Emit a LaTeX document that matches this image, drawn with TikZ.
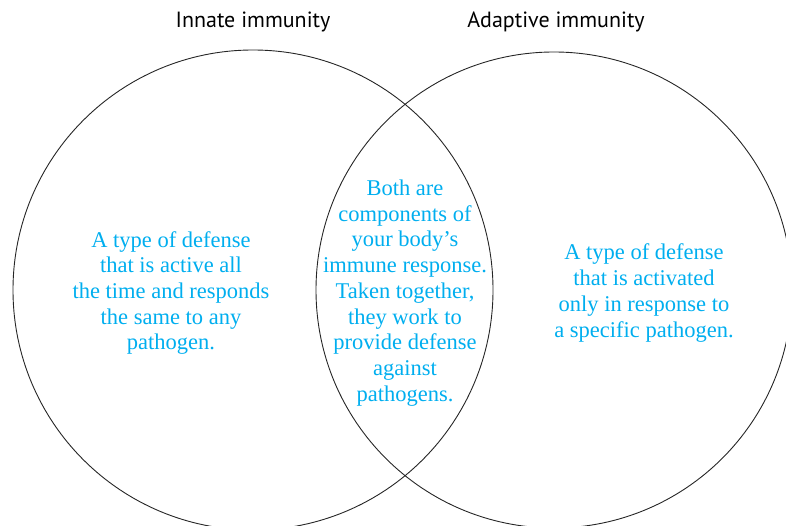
\documentclass[tikz,border=0pt]{standalone}
\usepackage{fontspec}
\setmainfont{Liberation Serif}
\newfontfamily\titlefont{PT Sans}
\definecolor{cyantext}{RGB}{0,174,239}
\begin{document}
\begin{tikzpicture}[x=1pt,y=-1pt,
  venn/.style={draw=black!85,line width=0.9pt},
  title/.style={font=\titlefont\fontsize{22}{24}\selectfont,anchor=center},
  body/.style={text=cyantext,align=center,font=\fontsize{22.5}{25.7}\selectfont,anchor=center,inner sep=0pt}]
\useasboundingbox (0,0) rectangle (786,526);
\begin{scope}
\clip (0,0) rectangle (786,526);
\draw[venn] (253,290) circle (240);
\draw[venn] (554,290) circle (238);
\end{scope}
\node[title] (t1) at (253,22) {Innate immunity};
\node[title] (t2) at (556,22) {Adaptive immunity};
\node[body] (left) at (171,293) {A type of defense\\that is active all\\the time and responds\\the same to any\\pathogen.};
\node[body] (mid) at (405,293) {Both are\\components of\\your body’s\\immune response.\\Taken together,\\they work to\\provide defense\\against\\pathogens.};
\node[body] (right) at (644,293) {A type of defense\\that is activated\\only in response to\\a specific pathogen.};
\end{tikzpicture}
\end{document}
